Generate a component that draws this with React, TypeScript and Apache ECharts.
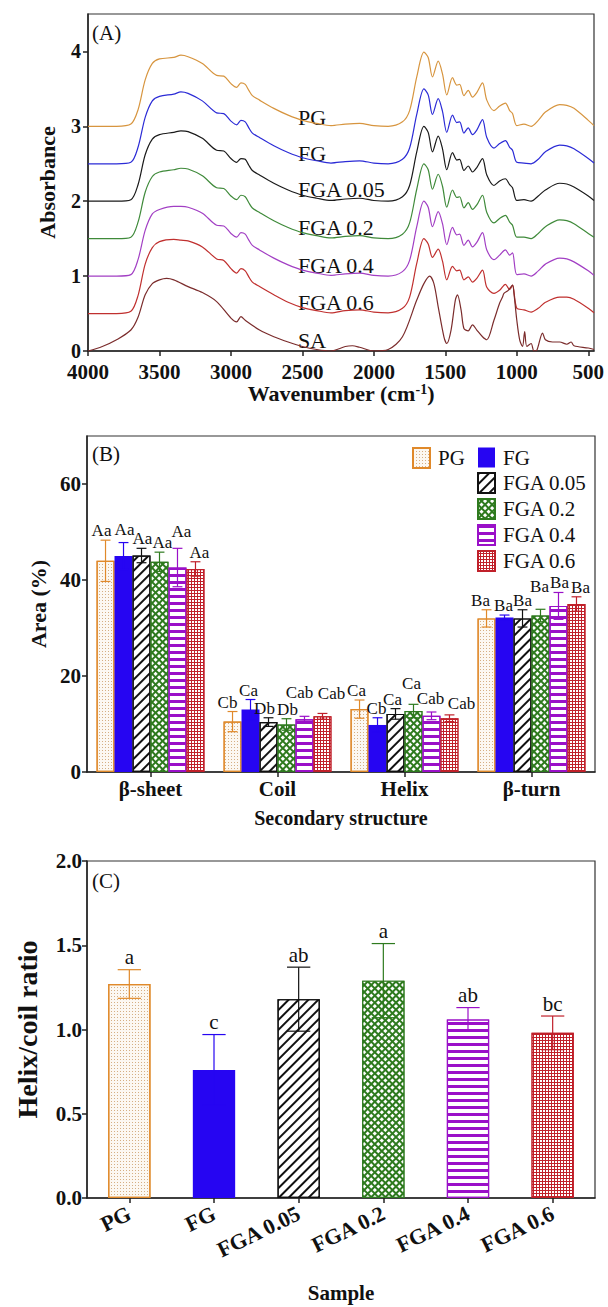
import React, { useEffect, useRef } from 'react';
import * as echarts from 'echarts';

const FONT = '"Liberation Serif", "Times New Roman", "DejaVu Serif", serif';
const INK = '#111111';

// ---------- Panel A : FTIR spectra ----------
const wavenumbers = [4000, 3800, 3700, 3650, 3600, 3550, 3500, 3400, 3350, 3300, 3200, 3100, 3050, 3000, 2960, 2930, 2900, 2875, 2850, 2800, 2700, 2600, 2500, 2400, 2300, 2200, 2100, 2000, 1900, 1800, 1750, 1700, 1650, 1620, 1590, 1550, 1520, 1490, 1450, 1420, 1400, 1370, 1340, 1310, 1280, 1240, 1210, 1160, 1120, 1080, 1050, 1030, 1000, 950, 900, 850, 800, 700, 650, 600, 500, 460];
const absPG = [3.00, 3.00, 3.03, 3.22, 3.62, 3.84, 3.90, 3.92, 3.95, 3.93, 3.84, 3.68, 3.67, 3.57, 3.52, 3.58, 3.56, 3.48, 3.41, 3.35, 3.24, 3.15, 3.08, 3.04, 3.01, 3.03, 3.04, 3.01, 3.00, 3.06, 3.21, 3.66, 3.99, 3.92, 3.66, 3.87, 3.70, 3.42, 3.65, 3.55, 3.56, 3.41, 3.48, 3.39, 3.45, 3.58, 3.35, 3.21, 3.27, 3.31, 3.21, 3.17, 3.01, 3.03, 3.00, 3.08, 3.19, 3.29, 3.28, 3.24, 3.08, 3.01];
const absFG = [2.50, 2.50, 2.52, 2.72, 3.12, 3.34, 3.40, 3.43, 3.46, 3.44, 3.34, 3.18, 3.17, 3.07, 3.02, 3.08, 3.06, 2.98, 2.91, 2.85, 2.74, 2.65, 2.58, 2.54, 2.51, 2.53, 2.54, 2.51, 2.50, 2.56, 2.71, 3.16, 3.50, 3.42, 3.16, 3.37, 3.20, 2.92, 3.15, 3.05, 3.06, 2.91, 2.98, 2.89, 2.95, 3.09, 2.85, 2.71, 2.77, 2.81, 2.72, 2.68, 2.52, 2.51, 2.50, 2.56, 2.66, 2.75, 2.74, 2.70, 2.57, 2.51];
const absFGA005 = [2.00, 2.00, 2.02, 2.22, 2.62, 2.83, 2.89, 2.92, 2.94, 2.93, 2.84, 2.68, 2.67, 2.57, 2.52, 2.57, 2.56, 2.48, 2.41, 2.35, 2.24, 2.15, 2.08, 2.04, 2.01, 2.03, 2.04, 2.01, 2.00, 2.06, 2.21, 2.66, 3.00, 2.92, 2.66, 2.87, 2.70, 2.42, 2.65, 2.55, 2.56, 2.41, 2.47, 2.39, 2.45, 2.57, 2.35, 2.21, 2.27, 2.30, 2.22, 2.18, 2.01, 2.02, 2.00, 2.07, 2.15, 2.24, 2.23, 2.19, 2.07, 2.01];
const absFGA02 = [1.50, 1.50, 1.52, 1.72, 2.12, 2.33, 2.39, 2.42, 2.44, 2.43, 2.34, 2.18, 2.17, 2.07, 2.02, 2.08, 2.06, 1.98, 1.91, 1.85, 1.74, 1.65, 1.58, 1.54, 1.51, 1.53, 1.54, 1.51, 1.50, 1.56, 1.71, 2.16, 2.50, 2.42, 2.16, 2.36, 2.20, 1.92, 2.15, 2.05, 2.06, 1.91, 1.98, 1.89, 1.95, 2.08, 1.85, 1.71, 1.77, 1.81, 1.72, 1.68, 1.52, 1.52, 1.50, 1.57, 1.66, 1.75, 1.74, 1.70, 1.57, 1.52];
const absFGA04 = [1.00, 1.00, 1.02, 1.22, 1.61, 1.83, 1.89, 1.93, 1.93, 1.92, 1.84, 1.68, 1.67, 1.57, 1.52, 1.58, 1.56, 1.48, 1.41, 1.35, 1.24, 1.15, 1.08, 1.04, 1.01, 1.03, 1.04, 1.01, 1.00, 1.06, 1.21, 1.66, 2.00, 1.92, 1.66, 1.86, 1.70, 1.42, 1.65, 1.55, 1.56, 1.41, 1.48, 1.39, 1.45, 1.58, 1.35, 1.22, 1.28, 1.35, 1.28, 1.31, 1.02, 1.03, 1.00, 1.07, 1.16, 1.24, 1.23, 1.19, 1.07, 1.01];
const absFGA06 = [0.50, 0.50, 0.53, 0.74, 1.16, 1.38, 1.46, 1.49, 1.48, 1.47, 1.39, 1.23, 1.21, 1.10, 1.04, 1.10, 1.07, 0.99, 0.92, 0.86, 0.75, 0.65, 0.58, 0.54, 0.51, 0.54, 0.55, 0.52, 0.51, 0.57, 0.72, 1.17, 1.50, 1.43, 1.25, 1.36, 1.20, 0.95, 1.13, 1.07, 1.08, 0.95, 0.99, 0.92, 0.97, 1.08, 0.85, 0.77, 0.81, 0.89, 0.82, 0.88, 0.57, 0.55, 0.52, 0.57, 0.65, 0.72, 0.72, 0.69, 0.57, 0.51];
const wavenumbersSA = [4000, 3900, 3800, 3700, 3650, 3600, 3550, 3500, 3450, 3400, 3300, 3200, 3100, 3000, 2960, 2930, 2900, 2800, 2700, 2600, 2500, 2400, 2300, 2200, 2150, 2100, 2000, 1900, 1800, 1700, 1650, 1610, 1580, 1550, 1510, 1490, 1460, 1430, 1415, 1390, 1370, 1340, 1310, 1280, 1240, 1210, 1160, 1120, 1100, 1090, 1060, 1030, 1020, 1000, 980, 960, 945, 930, 900, 880, 860, 820, 800, 750, 700, 650, 620, 600, 500, 460];
const absSA = [0.00, 0.06, 0.15, 0.28, 0.45, 0.75, 0.90, 0.95, 0.97, 0.95, 0.86, 0.78, 0.66, 0.44, 0.39, 0.46, 0.41, 0.28, 0.19, 0.12, 0.06, 0.02, 0.00, 0.06, 0.07, 0.05, 0.00, 0.02, 0.19, 0.68, 0.90, 1.00, 0.90, 0.59, 0.19, 0.10, 0.28, 0.68, 0.75, 0.55, 0.30, 0.27, 0.35, 0.28, 0.19, 0.15, 0.41, 0.64, 0.72, 0.77, 0.81, 0.88, 0.77, 0.41, 0.15, 0.06, 0.26, 0.06, 0.10, 0.00, 0.01, 0.24, 0.15, 0.12, 0.12, 0.09, 0.12, 0.07, 0.04, 0.02];
const spectrumNames = ['PG', 'FG', 'FGA 0.05', 'FGA 0.2', 'FGA 0.4', 'FGA 0.6', 'SA'];
const spectrumColors = ['#d7953f', '#2b2bd6', '#1a1a1a', '#3f8a3a', '#a23fc4', '#c0302f', '#7b2c2c'];
const xTicksA = [4000, 3500, 3000, 2500, 2000, 1500, 1000, 500];
const yTicksA = [0, 1, 2, 3, 4];

// ---------- Panel B : secondary structure ----------
const structures = ['β-sheet', 'Coil', 'Helix', 'β-turn'];
const samples = ['PG', 'FG', 'FGA 0.05', 'FGA 0.2', 'FGA 0.4', 'FGA 0.6'];
const areaPG = [44.0, 10.5, 13.1, 32.0];
const areaFG = [45.0, 13.0, 9.8, 32.2];
const areaFGA005 = [45.1, 10.4, 12.1, 32.0];
const areaFGA02 = [43.8, 9.9, 12.7, 32.6];
const areaFGA04 = [42.6, 11.0, 11.7, 34.6];
const areaFGA06 = [42.3, 11.6, 11.2, 35.0];
const errPG = [4.3, 2.1, 1.9, 1.8];
const errFG = [2.8, 2.1, 1.5, 0.5];
const errFGA005 = [1.5, 0.9, 1.1, 1.8];
const errFGA02 = [2.0, 1.2, 1.4, 1.3];
const errFGA04 = [4.0, 0.6, 0.8, 2.8];
const errFGA06 = [1.5, 0.6, 0.7, 1.5];
const lettersPG = ['Aa', 'Cb', 'Ca', 'Ba'];
const lettersFG = ['Aa', 'Ca', 'Cb', 'Ba'];
const lettersFGA005 = ['Aa', 'Db', 'Ca', 'Ba'];
const lettersFGA02 = ['Aa', 'Db', 'Ca', 'Ba'];
const lettersFGA04 = ['Aa', 'Cab', 'Cab', 'Ba'];
const lettersFGA06 = ['Aa', 'Cab', 'Cab', 'Ba'];
const yTicksB = [0, 20, 40, 60];

// ---------- Panel C : helix / coil ratio ----------
const ratio = [1.27, 0.76, 1.18, 1.29, 1.06, 0.98];
const ratioErr = [0.085, 0.21, 0.19, 0.22, 0.07, 0.10];
const ratioLetters = ['a', 'c', 'ab', 'a', 'ab', 'bc'];

// ---------- styling (not data) ----------
const areaMeans = [areaPG, areaFG, areaFGA005, areaFGA02, areaFGA04, areaFGA06];
const areaErrs = [errPG, errFG, errFGA005, errFGA02, errFGA04, errFGA06];
const areaLetters = [lettersPG, lettersFG, lettersFGA005, lettersFGA02, lettersFGA04, lettersFGA06];
// small pixel nudges of the significance letters, as placed in the reference
const letterLiftB = [[0, 0, 0, 0], [4, 0, 0, 0], [0, 0, 0, 0], [0, 0, 11, 13], [7, 14, 4, 0], [0, 10, 2, 0]];
const letterShiftB = [[-4, -5, -3, -6], [1, -2, -1, -1], [1, -4, -3, 0], [3, 1, -2, -1], [4, -5, -1, 1], [4, 9, 12, 4]];
const edgeColors = ['#e0892a', '#2605f2', '#111111', '#2e7a1e', '#9a10c8', '#c0202a'];

const sampleStyles: any[] = [
  { color: '#fcf8f2', borderColor: '#e0892a', borderWidth: 1.2,
    decal: { symbol: 'rect', symbolSize: 1, color: 'rgba(200,150,95,0.75)', dashArrayX: [1, 2], dashArrayY: [1, 2], rotation: 0 } },
  { color: '#2605f2', borderColor: '#2605f2', borderWidth: 0 },
  { color: '#ffffff', borderColor: '#111111', borderWidth: 1.2,
    decal: { symbol: 'rect', symbolSize: 1, color: '#111111', dashArrayX: [1, 0], dashArrayY: [2, 5], rotation: -Math.PI / 4 } },
  { color: '#2e7a1e', borderColor: '#2e7a1e', borderWidth: 1.2,
    decal: { symbol: 'rect', symbolSize: 1, color: '#ffffff', dashArrayX: [3, 2], dashArrayY: [3, 2], rotation: Math.PI / 4 } },
  { color: '#ffffff', borderColor: '#9a10c8', borderWidth: 1.2,
    decal: { symbol: 'rect', symbolSize: 1, color: '#9a10c8', dashArrayX: [1, 0], dashArrayY: [3, 4], rotation: 0 } },
  { color: '#c0202a', borderColor: '#c0202a', borderWidth: 1.2,
    decal: { symbol: 'rect', symbolSize: 1, color: '#ffffff', dashArrayX: [2, 1], dashArrayY: [2, 1], rotation: 0 } },
];

const spectraWn = [wavenumbers, wavenumbers, wavenumbers, wavenumbers, wavenumbers, wavenumbers, wavenumbersSA];
const spectraAbs = [absPG, absFG, absFGA005, absFGA02, absFGA04, absFGA06, absSA];
const spectrumLabelY = [117, 153, 189, 227, 265, 302, 340];

const boldLabel = (size: number) => ({ fontFamily: FONT, fontWeight: 'bold' as const, fontSize: size, color: INK });
const axisLine = { show: true, lineStyle: { color: '#222', width: 1.5 } };
const axisTick = { show: true, length: 5, lineStyle: { color: '#222', width: 1.5 } };
const plain = (v: number) => String(v);

function txt(text: string, size: number, extra: any = {}) {
  return { text, fontFamily: FONT, fontSize: size, fill: INK, ...extra };
}

export default function App() {
  const ref = useRef<HTMLDivElement>(null);

  useEffect(() => {
    document.body.style.margin = '0';
    if (!ref.current) return;
    const chart = echarts.init(ref.current, undefined, { renderer: 'svg' });

    const lineSeries = spectrumNames.map((name, k) => ({
      type: 'line',
      name: 'spectrum ' + name,
      xAxisIndex: 0,
      yAxisIndex: 0,
      data: spectraWn[k].map((w, j) => [w, spectraAbs[k][j]]),
      showSymbol: false,
      symbol: 'none',
      smooth: 0.3,
      silent: true,
      lineStyle: { color: spectrumColors[k], width: 1.2 },
      z: 2,
    }));

    const barSeriesB = samples.map((name, i) => ({
      type: 'bar',
      name,
      xAxisIndex: 1,
      yAxisIndex: 1,
      data: areaMeans[i],
      barGap: '0%',
      barCategoryGap: '15%',
      itemStyle: sampleStyles[i],
      silent: true,
      z: 2,
    }));

    const errSeriesB = samples.map((name, i) => ({
      type: 'custom',
      name: 'err ' + name,
      xAxisIndex: 1,
      yAxisIndex: 1,
      silent: true,
      clip: false,
      z: 4,
      encode: { x: 0, y: 1 },
      data: structures.map((_, ci) => [ci, areaMeans[i][ci], areaErrs[i][ci]]),
      renderItem: (params: any, api: any) => {
        const ci = api.value(0);
        const m = api.value(1);
        const e = api.value(2);
        const base = api.coord([ci, m]);
        const band = api.size([1, 0])[0];
        const groupW = band * 0.85;
        const barW = groupW / samples.length;
        const x = base[0] - groupW / 2 + (i + 0.5) * barW;
        const yTop = api.coord([ci, m + e])[1];
        const yBot = api.coord([ci, m - e])[1];
        const cap = barW * 0.55;
        const st = { stroke: edgeColors[i], lineWidth: 1.2 };
        const lift = letterLiftB[i][params.dataIndex];
        const shift = letterShiftB[i][params.dataIndex];
        return {
          type: 'group',
          children: [
            { type: 'line', shape: { x1: x, y1: yTop, x2: x, y2: yBot }, style: st },
            { type: 'line', shape: { x1: x - cap / 2, y1: yTop, x2: x + cap / 2, y2: yTop }, style: st },
            { type: 'line', shape: { x1: x - cap / 2, y1: yBot, x2: x + cap / 2, y2: yBot }, style: st },
            {
              type: 'text', x: x + shift, y: yTop - 1 - lift,
              style: txt(areaLetters[i][params.dataIndex], 17, { align: 'center', verticalAlign: 'bottom', textAlign: 'center', textVerticalAlign: 'bottom' }),
            },
          ],
        };
      },
    }));

    const barSeriesC = {
      type: 'bar',
      name: 'ratio',
      xAxisIndex: 2,
      yAxisIndex: 2,
      barCategoryGap: '50%',
      silent: true,
      z: 2,
      data: ratio.map((v, i) => ({ value: v, itemStyle: sampleStyles[i] })),
    };

    const errSeriesC = {
      type: 'custom',
      name: 'ratio err',
      xAxisIndex: 2,
      yAxisIndex: 2,
      silent: true,
      clip: false,
      z: 4,
      encode: { x: 0, y: 1 },
      data: samples.map((_, i) => [i, ratio[i], ratioErr[i]]),
      renderItem: (params: any, api: any) => {
        const i = params.dataIndex;
        const ci = api.value(0);
        const m = api.value(1);
        const e = api.value(2);
        const x = api.coord([ci, m])[0];
        const band = api.size([1, 0])[0];
        const cap = band * 0.5 * 0.55;
        const yTop = api.coord([ci, m + e])[1];
        const yBot = api.coord([ci, m - e])[1];
        const st = { stroke: edgeColors[i], lineWidth: 1.2 };
        return {
          type: 'group',
          children: [
            { type: 'line', shape: { x1: x, y1: yTop, x2: x, y2: yBot }, style: st },
            { type: 'line', shape: { x1: x - cap / 2, y1: yTop, x2: x + cap / 2, y2: yTop }, style: st },
            { type: 'line', shape: { x1: x - cap / 2, y1: yBot, x2: x + cap / 2, y2: yBot }, style: st },
            {
              type: 'text', x, y: yTop - 2,
              style: txt(ratioLetters[i], 21, { align: 'center', verticalAlign: 'bottom', textAlign: 'center', textVerticalAlign: 'bottom' }),
            },
          ],
        };
      },
    };

    const graphicTexts: any[] = [
      { type: 'text', x: 92, y: 33, style: txt('(A)', 21, { verticalAlign: 'middle', textVerticalAlign: 'middle' }) },
      { type: 'text', x: 92, y: 454, style: txt('(B)', 21, { verticalAlign: 'middle', textVerticalAlign: 'middle' }) },
      { type: 'text', x: 92, y: 881, style: txt('(C)', 21, { verticalAlign: 'middle', textVerticalAlign: 'middle' }) },
      ...spectrumNames.map((n, k) => ({
        type: 'text', x: 298, y: spectrumLabelY[k],
        style: txt(n, 22, { verticalAlign: 'middle', textVerticalAlign: 'middle' }),
      })),
    ];

    const legendCommon = {
      icon: 'rect',
      itemWidth: 17,
      itemHeight: 20,
      selectedMode: false,
      textStyle: { fontFamily: FONT, fontSize: 21, color: INK, padding: [0, 0, 0, 3] },
    };

    const option: any = {
      animation: false,
      backgroundColor: '#ffffff',
      grid: [
        { left: 88, top: 14, width: 506, height: 337, show: true, borderColor: '#333', borderWidth: 1.2, backgroundColor: 'transparent' },
        { left: 87, top: 436, width: 508, height: 336, show: true, borderColor: '#333', borderWidth: 1.2, backgroundColor: 'transparent' },
        { left: 87, top: 861, width: 508, height: 337, show: true, borderColor: '#333', borderWidth: 1.2, backgroundColor: 'transparent' },
      ],
      xAxis: [
        {
          type: 'value', gridIndex: 0, min: 460, max: 4000, inverse: true,
          axisLine, axisTick: { ...axisTick, customValues: xTicksA },
          axisLabel: { ...boldLabel(21), margin: 10, customValues: xTicksA, formatter: plain },
          splitLine: { show: false },
          name: 'Wavenumber (cm{sup|-1})', nameLocation: 'middle', nameGap: 28,
          nameTextStyle: { ...boldLabel(22), rich: { sup: { fontFamily: FONT, fontWeight: 'bold', fontSize: 14, color: INK, verticalAlign: 'top', lineHeight: 14 } } },
        },
        {
          type: 'category', gridIndex: 1, data: structures,
          axisLine, axisTick: { ...axisTick, alignWithLabel: true },
          axisLabel: { ...boldLabel(21), margin: 6 },
          name: 'Secondary structure', nameLocation: 'middle', nameGap: 36,
          nameTextStyle: boldLabel(20),
        },
        {
          type: 'category', gridIndex: 2, data: samples,
          axisLine, axisTick: { ...axisTick, alignWithLabel: true },
          axisLabel: { ...boldLabel(22), margin: 14, rotate: 26, interval: 0 },
          name: 'Sample', nameLocation: 'middle', nameGap: 84,
          nameTextStyle: boldLabel(21),
        },
      ],
      yAxis: [
        {
          type: 'value', gridIndex: 0, min: 0, max: 4.5,
          axisLine, axisTick: { ...axisTick, customValues: yTicksA },
          axisLabel: { ...boldLabel(20), margin: 7, lineHeight: 14, customValues: yTicksA, formatter: plain },
          splitLine: { show: false },
          name: 'Absorbance', nameLocation: 'middle', nameGap: 30,
          nameTextStyle: boldLabel(22),
        },
        {
          type: 'value', gridIndex: 1, min: 0, max: 70,
          axisLine, axisTick: { ...axisTick, customValues: yTicksB },
          axisLabel: { ...boldLabel(21), margin: 6, customValues: yTicksB, formatter: plain },
          splitLine: { show: false },
          name: 'Area (%)', nameLocation: 'middle', nameGap: 35,
          nameTextStyle: boldLabel(22),
        },
        {
          type: 'value', gridIndex: 2, min: 0, max: 2, interval: 0.5,
          axisLine, axisTick,
          axisLabel: { ...boldLabel(21), margin: 5, formatter: (v: number) => v.toFixed(1) },
          splitLine: { show: false },
          name: 'Helix/coil ratio', nameLocation: 'middle', nameGap: 46,
          nameTextStyle: boldLabel(28),
        },
      ],
      legend: [
        { ...legendCommon, data: ['PG'], left: 407, top: 442, orient: 'horizontal' },
        { ...legendCommon, data: ['FG', 'FGA 0.05', 'FGA 0.2', 'FGA 0.4', 'FGA 0.6'], left: 472, top: 442, orient: 'vertical', itemGap: 4 },
      ],
      graphic: graphicTexts,
      series: [...lineSeries, ...barSeriesB, ...errSeriesB, barSeriesC, errSeriesC],
    };

    chart.setOption(option);
    return () => {
      chart.dispose();
    };
  }, []);

  return <div ref={ref} style={{ width: 608, height: 1307 }} />;
}
